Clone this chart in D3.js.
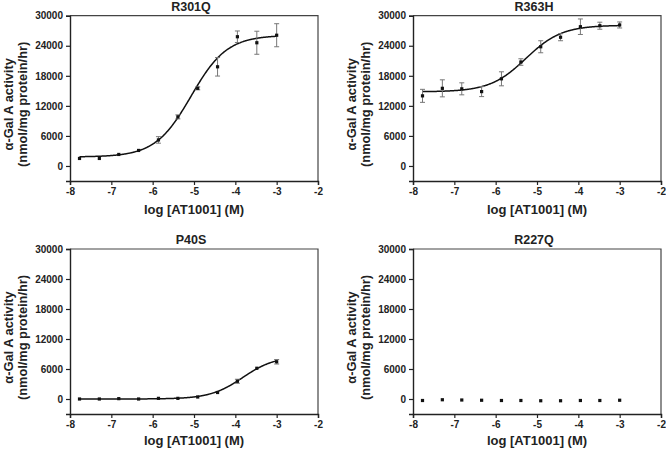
<!DOCTYPE html>
<html><head><meta charset="utf-8">
<script src="https://cdn.jsdelivr.net/npm/d3@7"></script>
<style>body{margin:0;background:#fff}svg{display:block}text{font-family:"Liberation Sans",Arial,sans-serif;font-weight:bold;fill:#222}</style>
</head><body><svg id="c" width="666" height="449"></svg>
<script>
// log10 molar concentrations of AT1001 (3-fold dilutions)
const logConc = [-7.77, -7.29, -6.82, -6.34, -5.86, -5.39, -4.91, -4.43, -3.95, -3.48, -3.00];
const titles = ["R301Q", "R363H", "P40S", "R227Q"];
const r301qMean = [1500, 1500, 2300, 3100, 5200, 9800, 15500, 19800, 25800, 24600, 26100];
const r301qErr  = [200, 150, 200, 250, 650, 400, 300, 1850, 1150, 2300, 2300];
const r363hMean = [14000, 15500, 15400, 14850, 17400, 20750, 23800, 25700, 27800, 28000, 28150];
const r363hErr  = [1300, 1700, 1200, 1000, 1400, 650, 1200, 700, 1550, 700, 600];
const p40sMean  = [0, 0, 70, 0, 130, 130, 400, 1300, 3550, 6150, 7450];
const p40sErr   = [80, 80, 80, 80, 80, 80, 150, 300, 400, 300, 450];
const r227qMean = [-300, -150, -200, -250, -300, -300, -350, -350, -300, -300, -250];
const r227qErr  = [0, 0, 0, 0, 0, 0, 0, 0, 0, 0, 0];
// four-parameter logistic fit parameters: [bottom, top, logEC50, hill]
const r301qFit = [1800, 26100, -5.07, 1.0];
const r363hFit = [14800, 28100, -5.27, 1.0];
const p40sFit  = [0, 8600, -3.82, 1.1];
const r227qFit = null;
const xTicks = [-8, -7, -6, -5, -4, -3, -2];
const yTicks = [0, 6000, 12000, 18000, 24000, 30000];
const xLabel = "log [AT1001] (M)";
const yLabel1 = "\u03b1-Gal A activity";
const yLabel2 = "(nmol/mg protein/hr)";

const series = [
  {mean: r301qMean, err: r301qErr, fit: r301qFit},
  {mean: r363hMean, err: r363hErr, fit: r363hFit},
  {mean: p40sMean, err: p40sErr, fit: p40sFit},
  {mean: r227qMean, err: r227qErr, fit: r227qFit}
];
const cols = [[70, 318], [413, 661]];
const rows = [[15.7, 181], [249, 414]];
const svg = d3.select("#c");

series.forEach((s, i) => {
  const [L, R] = cols[i % 2];
  const [T, B] = rows[Math.floor(i / 2)];
  const x = d3.scaleLinear().domain([-8, -2]).range([L, R]);
  const y = d3.scaleLinear().domain([-3000, 30000]).range([B, T]);
  const g = svg.append("g");
  g.append("path").attr("d", `M${L},${T}H${R}V${B}`).attr("fill", "none").attr("stroke", "#444").attr("stroke-width", 1.2);
  const xa = g.append("g").attr("transform", `translate(0,${B})`)
    .call(d3.axisBottom(x).tickValues(xTicks).tickSize(4).tickPadding(3).tickFormat(d => d3.format("d")(d).replace("\u2212", "-")));
  const ya = g.append("g").attr("transform", `translate(${L},0)`)
    .call(d3.axisLeft(y).tickValues(yTicks).tickSize(4).tickPadding(3).tickFormat(d3.format("d")));
  [xa, ya].forEach(a => {
    a.select(".domain").attr("stroke", "#222").attr("stroke-width", 1.4);
    a.selectAll(".tick line").attr("stroke", "#222").attr("stroke-width", 1.2);
    a.selectAll("text").style("font-size", "10px").attr("fill", "#222");
  });
  g.append("text").attr("x", (L + R) / 2 - 3).attr("y", T - 5).attr("text-anchor", "middle").style("font-size", "12.5px").text(titles[i]);
  g.append("text").attr("x", (L + R) / 2).attr("y", B + (i < 2 ? 33 : 31)).attr("text-anchor", "middle").style("font-size", "13px").text(xLabel);
  const yc = (T + B) / 2 + 6;
  g.append("text").attr("transform", `translate(${L - 57},${yc}) rotate(-90)`).attr("text-anchor", "middle").style("font-size", "12.8px").text(yLabel1);
  g.append("text").attr("transform", `translate(${L - 43},${yc}) rotate(-90)`).attr("text-anchor", "middle").style("font-size", "12.8px").text(yLabel2);
  if (s.fit) {
    const [bot, top, ec, h] = s.fit;
    const xs = d3.range(logConc[0], logConc[logConc.length - 1] + 0.001, 0.02);
    const line = d3.line().x(d => x(d)).y(d => y(bot + (top - bot) / (1 + Math.pow(10, (ec - d) * h)))).curve(d3.curveBasis);
    g.append("path").datum(xs).attr("d", line).attr("fill", "none").attr("stroke", "#111").attr("stroke-width", 1.5);
  }
  logConc.forEach((c, k) => {
    const e = s.err[k];
    if (e > 0 && (y(s.mean[k] - e) - y(s.mean[k] + e)) > 3) {
      const cx = x(c), y1 = y(s.mean[k] + e), y2 = y(s.mean[k] - e);
      g.append("path").attr("d", `M${cx},${y1}V${y2}M${cx - 2.5},${y1}h5M${cx - 2.5},${y2}h5`)
        .attr("stroke", "#777").attr("stroke-width", 1).attr("fill", "none");
    }
  });
  g.selectAll("rect.pt").data(logConc).enter().append("rect")
    .attr("x", d => x(d) - 1.6).attr("y", (d, k) => y(s.mean[k]) - 1.6)
    .attr("width", 3.2).attr("height", 3.2).attr("fill", "#111");
});
</script></body></html>
